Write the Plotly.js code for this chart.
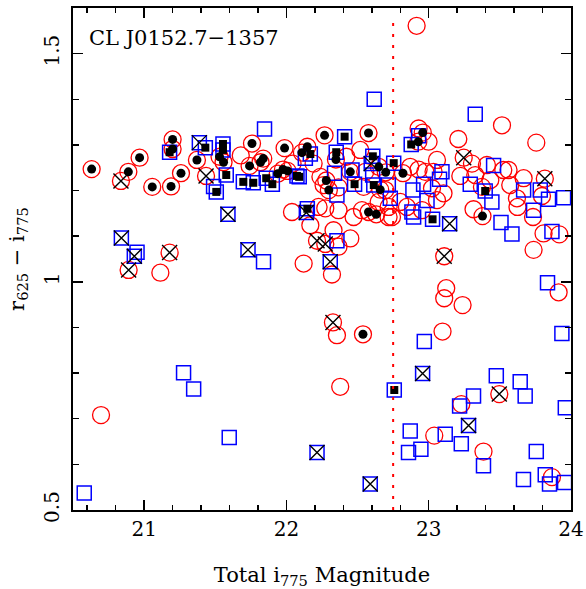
<!DOCTYPE html>
<html>
<head>
<meta charset="utf-8">
<script src="https://cdn.plot.ly/plotly-3.0.1.min.js"></script>
<style>
  html, body { margin: 0; padding: 0; background: #fff; }
  #chart { width: 586px; height: 589px; }
</style>
</head>
<body>
<div id="chart"></div>
<script>
// CL J0152.7-1357: r625 - i775 colour against total i775 magnitude.

// Red circle with a black dot
const circDotMag = [20.631, 20.889, 20.968, 21.057, 21.189, 21.200, 21.200, 21.259, 21.371, 21.530,
  21.558, 21.758, 21.741, 21.837, 21.818, 21.987, 21.939, 21.976, 22.008, 22.268,
  22.577, 22.147, 22.109, 22.348, 22.449, 22.280, 22.298, 22.649, 22.698, 22.659,
  22.577, 22.631, 22.958, 22.927, 22.819, 23.378, 22.538];
const circDotCol = [1.247, 1.241, 1.272, 1.208, 1.209, 1.312, 1.291, 1.238, 1.267, 1.274,
  1.262, 1.303, 1.254, 1.270, 1.262, 1.293, 1.237, 1.246, 1.243, 1.321,
  1.326, 1.296, 1.283, 1.268, 1.241, 1.222, 1.201, 1.252, 1.240, 1.202,
  1.153, 1.148, 1.327, 1.307, 1.238, 1.144, 0.885];

// Blue square with a black filled square
const sqFillMag = [21.179, 21.430, 21.507, 21.554, 21.554, 21.577, 21.697, 21.767, 21.858, 21.901,
  22.074, 22.409, 22.168, 22.090, 22.350, 22.607, 22.754, 22.479, 22.614, 22.147,
  22.877, 23.027, 23.397, 22.758];
const sqFillCol = [1.284, 1.294, 1.197, 1.302, 1.289, 1.234, 1.219, 1.217, 1.227, 1.214,
  1.232, 1.318, 1.280, 1.230, 1.284, 1.275, 1.260, 1.214, 1.212, 1.160,
  1.301, 1.137, 1.199, 0.763];

// Plain red circles
const circMag = [20.697, 21.114, 21.679, 22.039, 22.915, 22.043, 22.519, 22.421, 22.226, 22.168,
  22.472, 22.531, 22.718, 22.331, 22.449, 22.366, 22.121, 22.320, 22.355, 22.378,
  23.123, 23.109, 23.238, 23.097, 23.229, 23.039, 23.385, 23.866, 23.913, 23.208,
  23.515, 23.756, 23.524, 23.561, 23.667, 23.620, 23.624, 23.796, 23.733, 23.807,
  23.918, 23.737, 23.315, 23.327, 22.929, 22.999, 22.870, 22.929, 22.976, 23.058,
  23.034, 23.023, 23.104, 22.800, 22.847, 23.058, 22.953, 22.742, 22.191, 22.239,
  22.261, 22.366, 22.542, 22.695, 22.554, 22.718, 22.648, 22.366, 22.273, 23.409,
  23.374, 23.222, 23.304, 23.433, 23.573];
const circCol = [0.708, 1.020, 1.277, 1.153, 1.561, 1.259, 1.289, 1.274, 1.164, 1.124,
  1.142, 1.157, 1.142, 1.113, 1.095, 1.077, 1.040, 1.016, 0.883, 0.770,
  0.986, 0.964, 0.949, 0.891, 0.732, 0.663, 0.628, 0.572, 0.977, 1.313,
  1.343, 1.305, 1.245, 1.245, 1.227, 1.183, 1.164, 1.188, 1.142, 1.106,
  1.104, 1.070, 1.159, 1.234, 1.336, 1.307, 1.252, 1.246, 1.241, 1.267,
  1.241, 1.205, 1.194, 1.175, 1.164, 1.179, 1.157, 1.142, 1.259, 1.230,
  1.212, 1.207, 1.208, 1.201, 1.241, 1.164, 1.175, 1.157, 1.161, 1.256,
  1.208, 1.232, 1.259, 1.223, 1.212];

// Plain blue squares
const sqMag = [20.579, 20.950, 21.277, 21.348, 21.598, 21.488, 21.846, 21.839, 22.617, 22.133,
  22.338, 22.355, 22.461, 22.730, 22.355, 22.929, 23.093, 23.076, 22.964, 22.889,
  22.988, 22.882, 22.894, 23.292, 23.327, 23.456, 23.444, 23.508, 23.585, 23.667,
  23.784, 23.842, 23.948, 23.737, 23.866, 23.835, 23.936, 23.960, 22.969, 23.475,
  23.643, 23.678, 23.315, 23.217, 22.870, 23.116, 23.229, 22.945, 22.858, 23.385,
  23.756, 23.666, 23.819, 23.849, 23.955, 22.606, 22.716];
const sqCol = [0.537, 1.065, 0.801, 0.765, 0.659, 1.209, 1.335, 1.044, 1.400, 1.271,
  1.238, 1.190, 1.245, 1.183, 1.090, 1.320, 1.241, 1.225, 1.214, 1.201,
  1.178, 1.153, 1.142, 1.214, 1.367, 1.255, 1.175, 1.130, 1.105, 1.201,
  1.201, 1.181, 1.184, 1.157, 1.110, 0.998, 0.887, 0.724, 0.869, 0.794,
  0.781, 0.750, 0.750, 0.728, 0.673, 0.666, 0.645, 0.633, 0.626, 0.597,
  0.628, 0.567, 0.577, 0.557, 0.560, 1.234, 1.212];

// Red circle with a cross
const circCrossMag = [20.837, 21.435, 21.179, 20.891, 22.215, 22.273, 22.327, 23.109, 23.246, 23.816, 23.496];
const circCrossCol = [1.221, 1.232, 1.064, 1.026, 1.090, 1.083, 0.911, 1.056, 1.272, 1.226, 0.754];

// Blue square with a cross
const sqCrossMag = [20.840, 20.931, 21.388, 21.589, 21.730, 22.215, 22.589, 22.140, 22.308, 22.596, 23.147, 22.957, 23.280];
const sqCrossCol = [1.096, 1.056, 1.305, 1.148, 1.070, 0.626, 0.557, 1.152, 1.044, 1.259, 1.127, 0.799, 0.685];

// Magnitude limit marked by the dotted line
const CUT_MAG = 22.75;

const xRange = [20.5, 24];
const yRange = [0.5, 1.6];
const xTickVals = [21, 22, 23, 24];
const xTickText = ['21', '22', '23', '24'];
const yTickVals = [0.5, 1, 1.5];
const yTickText = ['0.5', '1', '1.5'];

const FONT = 'DejaVu Serif, serif';

const traces = [
  {
    x: circMag.concat(circDotMag, circCrossMag),
    y: circCol.concat(circDotCol, circCrossCol),
    mode: 'markers', type: 'scatter',
    marker: { symbol: 'circle-open', size: 17, color: '#ff0000', line: { width: 1.3, color: '#ff0000' } },
    hoverinfo: 'skip'
  },
  {
    x: sqMag.concat(sqFillMag, sqCrossMag),
    y: sqCol.concat(sqFillCol, sqCrossCol),
    mode: 'markers', type: 'scatter',
    marker: { symbol: 'square-open', size: 14, color: '#0000ff', line: { width: 1.5, color: '#0000ff' } },
    hoverinfo: 'skip'
  },
  {
    x: circDotMag, y: circDotCol,
    mode: 'markers', type: 'scatter',
    marker: { symbol: 'circle', size: 9, color: '#000000' },
    hoverinfo: 'skip'
  },
  {
    x: sqFillMag, y: sqFillCol,
    mode: 'markers', type: 'scatter',
    marker: { symbol: 'square', size: 8, color: '#000000' },
    hoverinfo: 'skip'
  },
  {
    x: circCrossMag.concat(sqCrossMag),
    y: circCrossCol.concat(sqCrossCol),
    mode: 'markers', type: 'scatter',
    marker: { symbol: 'x-thin-open', size: 15, color: '#000000', line: { width: 1.4, color: '#000000' } },
    hoverinfo: 'skip'
  }
];

const axisCommon = {
  showgrid: false, zeroline: false,
  showline: true, linecolor: '#000', linewidth: 2, mirror: 'allticks',
  ticks: 'inside', ticklen: 10, tickwidth: 1.5, tickcolor: '#000',
  tickfont: { family: FONT, size: 20, color: '#000' },
  tickmode: 'array'
};

const layout = {
  width: 586, height: 589,
  margin: { l: 73, r: 15, t: 8, b: 79 },
  paper_bgcolor: '#fff', plot_bgcolor: '#fff',
  showlegend: false,
  font: { family: FONT, color: '#000' },
  xaxis: Object.assign({}, axisCommon, {
    range: xRange,
    tickvals: xTickVals, ticktext: xTickText,
    minor: { dtick: 0.2, tick0: 0, ticks: 'inside', ticklen: 5, tickwidth: 1.5, tickcolor: '#000' },
    title: { text: 'Total i<sub>775</sub> Magnitude', font: { family: FONT, size: 21, color: '#000' }, standoff: 28 }
  }),
  yaxis: Object.assign({}, axisCommon, {
    range: yRange,
    tickvals: yTickVals, ticktext: yTickText,
    tickangle: -90,
    ticklabelstandoff: 4,
    minor: { dtick: 0.1, tick0: 0, ticks: 'inside', ticklen: 6, tickwidth: 1.5, tickcolor: '#000' },
    title: { text: 'r<sub>625</sub> − i<sub>775</sub>', font: { family: FONT, size: 21, color: '#000' }, standoff: 10 }
  }),
  shapes: [{
    type: 'line', xref: 'x', yref: 'paper',
    x0: CUT_MAG, x1: CUT_MAG, y0: 0, y1: 0.98,
    line: { color: '#ff0000', width: 2, dash: '3px,8px' }
  }],
  annotations: [{
    text: 'CL J0152.7−1357',
    xref: 'paper', yref: 'paper', x: 0.028, y: 0.941,
    xanchor: 'left', yanchor: 'middle', showarrow: false,
    font: { family: FONT, size: 21, color: '#000' }
  }]
};

Plotly.newPlot('chart', traces, layout, { staticPlot: true, displayModeBar: false });
</script>
</body>
</html>
